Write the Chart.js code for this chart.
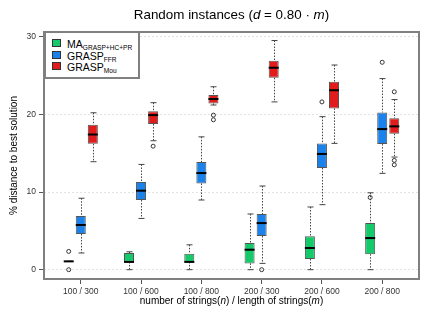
<!DOCTYPE html>
<html>
<head>
<meta charset="utf-8">
<script src="https://cdn.jsdelivr.net/npm/chart.js@4.4.1/dist/chart.umd.min.js"></script>
<style>
  html, body { margin: 0; padding: 0; background: #fff; }
  #wrap { position: relative; width: 427px; height: 320px; font-family: 'Liberation Sans', Arial, sans-serif; color: #000; }
  #chart { position: absolute; left: 0; top: 0; }
  .title { position: absolute; left: 0; width: 463px; top: 7px; text-align: center; font-size: 13.4px; line-height: 16px; }
  .xtitle { position: absolute; left: 0; width: 463px; top: 295px; text-align: center; font-size: 10px; line-height: 12px; }
  #legend { position: absolute; left: 44px; top: 31px; width: 96px; height: 48px; box-sizing: border-box;
            border: 2px solid #808080; background: #fff; font-size: 10.5px; }
  #legend .item { position: absolute; left: 6px; height: 12px; line-height: 12px; white-space: nowrap; }
  #legend .sw { display: inline-block; width: 7px; height: 6px; border: 1px solid #333; margin-right: 6px; vertical-align: 1px; }
  #legend sub { font-size: 6.6px; vertical-align: -2px; line-height: 0; }
</style>
</head>
<body>
<div id="wrap">
  <canvas id="chart" width="427" height="320"></canvas>
  <div class="title">Random instances (<i>d</i> = 0.80 · <i>m</i>)</div>
  <div class="xtitle">number of strings(<i>n</i>) / length of strings(<i>m</i>)</div>
  <div id="legend"></div>
</div>
<script>
const categories = ['100 / 300', '100 / 600', '100 / 800', '200 / 300', '200 / 600', '200 / 800'];
const yTicks = [0, 10, 20, 30];

// per category: [min, q1, median, q3, max]
const maStats = [
  [1.07, 1.07, 1.07, 1.07, 1.07],
  [0.0, 1.0, 1.0, 2.15, 2.3],
  [0.0, 1.0, 1.0, 2.06, 3.2],
  [0.0, 0.81, 2.57, 3.43, 7.17],
  [0.0, 1.38, 2.79, 4.3, 8.07],
  [0.0, 2.0, 4.07, 6.0, 9.9]
];
const maOutliers = [[2.35, 0], [], [], [], [], [9.3]];

const ffrStats = [
  [2.15, 4.6, 5.75, 6.9, 9.2],
  [6.6, 8.97, 10.17, 11.3, 13.55],
  [8.97, 11.1, 12.44, 13.86, 17.1],
  [0.81, 4.34, 6.0, 7.17, 10.77],
  [8.37, 13.1, 14.9, 16.26, 19.7],
  [12.4, 16.17, 18.1, 20.25, 24.6]
];
const ffrOutliers = [[], [], [], [0], [21.6], [26.7]];

const mouStats = [
  [13.9, 16.2, 17.4, 18.66, 20.2],
  [16.6, 18.75, 19.9, 20.4, 21.5],
  [21.2, 21.4, 21.97, 22.5, 23.55],
  [21.6, 24.7, 26.0, 26.9, 29.5],
  [16.26, 20.76, 23.1, 24.2, 26.35],
  [14.5, 17.5, 18.45, 19.5, 21.9]
];
const mouOutliers = [[], [15.9], [19.9, 19.3], [], [], [22.9, 14.07, 13.5]];

const seriesNames = ['MA', 'GRASP', 'GRASP'];
const seriesSubs = ['GRASP+HC+PR', 'FFR', 'Mou'];
const seriesColors = ['#14CA6A', '#1A82EA', '#E21C1C'];

const allStats = [maStats, ffrStats, mouStats];
const allOutliers = [maOutliers, ffrOutliers, mouOutliers];
const groupShift = [-0.2, 0, 0.2]; // matches bar grouping (categoryPercentage 0.6 / 3)

// legend (html so the subscripts stay real text)
const legendEl = document.getElementById('legend');
seriesNames.forEach((name, i) => {
  const item = document.createElement('div');
  item.className = 'item';
  item.style.top = (5 + i * 11.7) + 'px';
  item.innerHTML = `<span class="sw" style="background:${seriesColors[i]}"></span>${name}<sub>${seriesSubs[i]}</sub>`;
  legendEl.appendChild(item);
});

const boxDatasets = allStats.map((stats, s) => ({
  type: 'bar',
  data: stats.map((st, i) => ({ x: i + 1, y: [st[1], st[3]] })),
  backgroundColor: seriesColors[s],
  borderColor: '#555',
  borderWidth: 1,
  borderSkipped: false,
  categoryPercentage: 0.6,
  barPercentage: 0.83
}));

const outlierDatasets = allOutliers.map((outs, s) => ({
  type: 'scatter',
  data: outs.flatMap((list, i) => list.map(v => ({ x: i + 1 + groupShift[s], y: v }))),
  pointStyle: 'circle',
  pointRadius: 2,
  backgroundColor: 'rgba(0,0,0,0)',
  borderColor: '#333',
  borderWidth: 1
}));

const boxParts = {
  id: 'boxParts',
  beforeDatasetsDraw(chart) {
    const ctx = chart.ctx;
    const y = chart.scales.y;
    ctx.save();
    ctx.strokeStyle = '#444';
    ctx.lineWidth = 1;
    allStats.forEach((stats, s) => {
      chart.getDatasetMeta(s).data.forEach((bar, i) => {
        const st = stats[i];
        const x = Math.round(bar.x) + 0.5;
        const yMin = y.getPixelForValue(st[0]);
        const yQ1 = y.getPixelForValue(st[1]);
        const yQ3 = y.getPixelForValue(st[3]);
        const yMax = y.getPixelForValue(st[4]);
        ctx.setLineDash([1.5, 1.5]);
        ctx.beginPath();
        ctx.moveTo(x, yMax); ctx.lineTo(x, yQ3);
        ctx.moveTo(x, yQ1); ctx.lineTo(x, yMin);
        ctx.stroke();
        ctx.setLineDash([]);
        ctx.beginPath();
        ctx.moveTo(x - 3, yMax); ctx.lineTo(x + 3, yMax);
        ctx.moveTo(x - 3, yMin); ctx.lineTo(x + 3, yMin);
        ctx.stroke();
      });
    });
    ctx.restore();
  },
  afterDatasetsDraw(chart) {
    const ctx = chart.ctx;
    const y = chart.scales.y;
    const area = chart.chartArea;
    ctx.save();
    ctx.strokeStyle = '#000';
    ctx.lineWidth = 2;
    allStats.forEach((stats, s) => {
      chart.getDatasetMeta(s).data.forEach((bar, i) => {
        const ym = y.getPixelForValue(stats[i][2]);
        ctx.beginPath();
        ctx.moveTo(bar.x - bar.width / 2, ym);
        ctx.lineTo(bar.x + bar.width / 2, ym);
        ctx.stroke();
      });
    });
    // plot frame
    ctx.strokeStyle = '#808080';
    ctx.lineWidth = 2;
    ctx.strokeRect(area.left, area.top, area.right - area.left, area.bottom - area.top);
    ctx.restore();
  }
};

const tickFont = { family: "'Liberation Sans', Arial, sans-serif", size: 8.5 };

new Chart(document.getElementById('chart'), {
  type: 'bar',
  data: { datasets: [...boxDatasets, ...outlierDatasets] },
  options: {
    responsive: false,
    animation: false,
    devicePixelRatio: 1,
    layout: { padding: { top: 32, right: 8, left: 0, bottom: 0 } },
    plugins: { legend: { display: false }, tooltip: { enabled: false } },
    scales: {
      x: {
        type: 'linear',
        min: 0.39,
        max: 6.61,
        offset: false,
        grid: { offset: false, drawOnChartArea: false, tickLength: 5, tickColor: '#555' },
        border: { display: false },
        ticks: {
          font: tickFont, color: '#333', padding: 3, autoSkip: false, maxRotation: 0,
          callback: (v) => categories[v - 1]
        },
        afterBuildTicks: (scale) => { scale.ticks = categories.map((c, i) => ({ value: i + 1 })); },
        afterFit: (scale) => { scale.height = 41; }
      },
      y: {
        min: -1.2,
        max: 30.6,
        grid: { color: '#e2e2e2', tickLength: 5, tickColor: '#555', tickBorderDash: [] },
        border: { display: false, dash: [2, 2] },
        ticks: { font: tickFont, color: '#333', padding: 3 },
        afterBuildTicks: (scale) => { scale.ticks = yTicks.map(v => ({ value: v })); },
        afterFit: (scale) => { scale.width = 44; },
        title: {
          display: true,
          text: '% distance to best solution',
          font: { family: "'Liberation Sans', Arial, sans-serif", size: 10 },
          color: '#000',
          padding: { top: 8, bottom: 0 }
        }
      }
    }
  },
  plugins: [boxParts]
});
</script>
</body>
</html>
